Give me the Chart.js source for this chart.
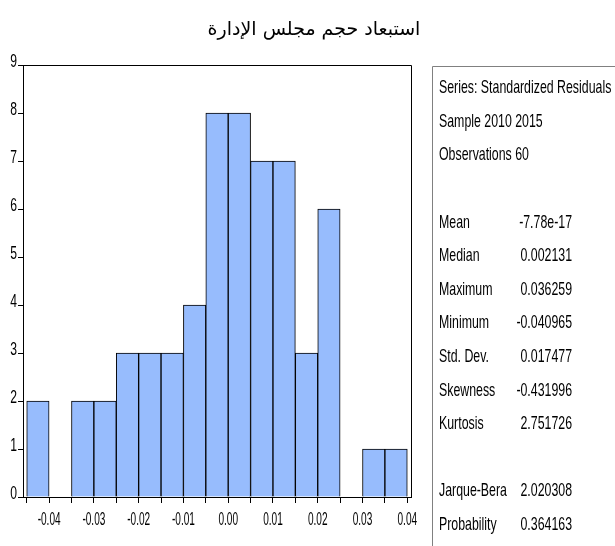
<!DOCTYPE html>
<html>
<head>
<meta charset="utf-8">
<script src="https://cdn.jsdelivr.net/npm/chart.js@4"></script>
<style>
  html, body { margin: 0; padding: 0; background: #fff; overflow: hidden; }
  #wrap { width: 615px; height: 546px; position: relative; }
</style>
</head>
<body>
<div id="wrap"><canvas id="c" width="615" height="546"></canvas></div>
<script>
// Histogram of standardized residuals with summary statistics
const chartTitle = 'استبعاد حجم مجلس الإدارة';

const binCenters = [-0.0425, -0.0375, -0.0325, -0.0275, -0.0225, -0.0175, -0.0125, -0.0075,
                    -0.0025, 0.0025, 0.0075, 0.0125, 0.0175, 0.0225, 0.0275, 0.0325, 0.0375];
const binCounts = [2, 0, 2, 2, 3, 3, 3, 4, 8, 8, 7, 7, 3, 6, 0, 1, 1];
const binEdges = [-0.045, -0.04, -0.035, -0.03, -0.025, -0.02, -0.015, -0.01, -0.005,
                  0, 0.005, 0.01, 0.015, 0.02, 0.025, 0.03, 0.035, 0.04];

const xTickValues = [-0.04, -0.03, -0.02, -0.01, 0, 0.01, 0.02, 0.03, 0.04];
const xTickLabels = ['-0.04', '-0.03', '-0.02', '-0.01', '0.00', '0.01', '0.02', '0.03', '0.04'];
const yTickValues = [0, 1, 2, 3, 4, 5, 6, 7, 8, 9];

const infoLines = ['Series: Standardized Residuals', 'Sample 2010 2015', 'Observations 60'];
const statNames = ['Mean', 'Median', 'Maximum', 'Minimum', 'Std. Dev.', 'Skewness', 'Kurtosis'];
const statValues = ['-7.78e-17', '0.002131', '0.036259', '-0.040965', '0.017477', '-0.431996', '2.751726'];
const testNames = ['Jarque-Bera', 'Probability'];
const testValues = ['2.020308', '0.364163'];

// condensed text helper: horizontal squeeze of a regular face
function squeezedText(ctx, text, x, y, align, font, sx) {
  ctx.save();
  ctx.font = font;
  ctx.textBaseline = 'middle';
  ctx.fillStyle = '#000';
  const w = ctx.measureText(text).width * sx;
  let left = x;
  if (align === 'right') left = x - w;
  else if (align === 'center') left = x - w / 2;
  ctx.translate(left, y);
  ctx.scale(sx, 1);
  ctx.textAlign = 'left';
  ctx.fillText(text, 0, 0);
  ctx.restore();
}

const decorations = {
  id: 'decorations',
  afterDraw(chart) {
    const ctx = chart.ctx;
    const a = chart.chartArea;
    const xs = chart.scales.x, ys = chart.scales.y;

    // frame top and right
    ctx.save();
    ctx.strokeStyle = '#000';
    ctx.lineWidth = 1;
    ctx.beginPath();
    ctx.moveTo(Math.round(a.left) + 0.5, Math.round(a.top) + 0.5);
    ctx.lineTo(Math.round(a.right) + 0.5, Math.round(a.top) + 0.5);
    ctx.lineTo(Math.round(a.right) + 0.5, Math.round(a.bottom) + 0.5);
    ctx.stroke();
    ctx.restore();

    // axis labels
    const tickFont = '19px "Liberation Sans", Arial, sans-serif';
    yTickValues.forEach(v => {
      squeezedText(ctx, String(v), a.left - 6, ys.getPixelForValue(v) - 3, 'right', tickFont, 0.64);
    });
    xTickValues.forEach((v, i) => {
      squeezedText(ctx, xTickLabels[i], xs.getPixelForValue(v), a.bottom + 23, 'center', tickFont, 0.53);
    });

    // title
    ctx.save();
    ctx.font = '19px "DejaVu Sans", sans-serif';
    ctx.fillStyle = '#000';
    ctx.textAlign = 'center';
    ctx.textBaseline = 'middle';
    ctx.direction = 'rtl';
    ctx.fillText(chartTitle, 314, 30);
    ctx.restore();

    // statistics panel
    const px = 432.5, py = 66.5;
    ctx.save();
    ctx.strokeStyle = '#808080';
    ctx.lineWidth = 1;
    ctx.beginPath();
    ctx.moveTo(615, py);
    ctx.lineTo(px, py);
    ctx.lineTo(px, 546);
    ctx.stroke();
    ctx.restore();

    const statFont = '19px "Liberation Sans", Arial, sans-serif';
    const sx = 0.65;
    const step = 33.6;
    let y = 88;
    infoLines.forEach(t => { squeezedText(ctx, t, 439, y, 'left', statFont, sx); y += step; });
    y += step;
    statNames.forEach((t, i) => {
      squeezedText(ctx, t, 439, y, 'left', statFont, sx);
      squeezedText(ctx, statValues[i], 572, y, 'right', statFont, sx);
      y += step;
    });
    y += step;
    testNames.forEach((t, i) => {
      squeezedText(ctx, t, 439, y, 'left', statFont, sx);
      squeezedText(ctx, testValues[i], 572, y, 'right', statFont, sx);
      y += step;
    });
  }
};

new Chart(document.getElementById('c'), {
  type: 'bar',
  data: {
    datasets: [{
      data: binCenters.map((c, i) => ({ x: c, y: binCounts[i] })),
      backgroundColor: '#97bcfd',
      borderColor: '#000',
      borderWidth: 1,
      borderSkipped: 'bottom',
      barPercentage: 1,
      categoryPercentage: 1
    }]
  },
  options: {
    responsive: false,
    devicePixelRatio: 1,
    animation: false,
    layout: { padding: { top: 65, right: 204, left: 0, bottom: 0 } },
    plugins: { legend: { display: false }, tooltip: { enabled: false }, title: { display: false } },
    scales: {
      x: {
        type: 'linear',
        offset: false,
        min: -0.04583,
        max: 0.04083,
        afterBuildTicks: s => { s.ticks = binEdges.map(v => ({ value: v })); },
        afterFit: s => { s.height = 49; },
        ticks: { display: false },
        grid: { offset: false, drawOnChartArea: false, drawTicks: true, tickLength: 6, color: '#000', lineWidth: 1 },
        border: { display: true, color: '#000', width: 1 }
      },
      y: {
        min: 0,
        max: 9,
        afterBuildTicks: s => { s.ticks = yTickValues.map(v => ({ value: v })); },
        afterFit: s => { s.width = 23; },
        ticks: { display: false },
        grid: { drawOnChartArea: false, drawTicks: true, tickLength: 5, color: '#000', lineWidth: 1 },
        border: { display: true, color: '#000', width: 1 }
      }
    }
  },
  plugins: [decorations]
});
</script>
</body>
</html>
